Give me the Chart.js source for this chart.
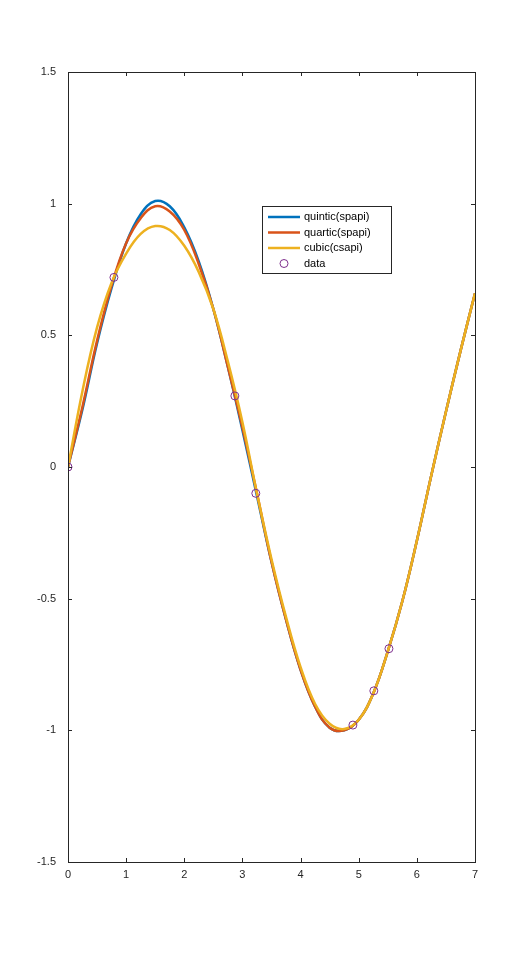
<!DOCTYPE html>
<html>
<head>
<meta charset="utf-8">
<script src="https://cdn.jsdelivr.net/npm/chart.js@4"></script>
<style>
  html, body { margin: 0; padding: 0; background: #fff; }
  #wrap { width: 525px; height: 970px; }
</style>
</head>
<body>
<div id="wrap"><canvas id="c" width="525" height="970"></canvas></div>
<script>
const xs = [0, 0.25, 0.5, 0.75, 1, 1.25, 1.5, 1.75, 2, 2.25, 2.5, 2.75, 3, 3.25, 3.5, 3.75, 4, 4.25, 4.5, 4.75, 5, 5.25, 5.5, 5.75, 6, 6.25, 6.5, 6.75, 7]
const quintic = [0, 0.22, 0.47, 0.68, 0.85, 0.96, 1.01, 0.99, 0.91, 0.78, 0.6, 0.38, 0.14, -0.11, -0.36, -0.58, -0.77, -0.91, -0.99, -1.0, -0.96, -0.86, -0.7, -0.51, -0.28, -0.03, 0.21, 0.44, 0.66]
const quartic = [0, 0.23, 0.48, 0.69, 0.85, 0.945, 0.99, 0.97, 0.9, 0.77, 0.6, 0.38, 0.15, -0.1, -0.36, -0.58, -0.77, -0.91, -0.99, -1.0, -0.96, -0.86, -0.7, -0.51, -0.28, -0.03, 0.21, 0.44, 0.66]
const cubic = [0, 0.29, 0.53, 0.7, 0.81, 0.885, 0.915, 0.9, 0.84, 0.74, 0.6, 0.4, 0.17, -0.1, -0.35, -0.57, -0.76, -0.9, -0.975, -0.995, -0.96, -0.86, -0.7, -0.51, -0.28, -0.03, 0.21, 0.44, 0.66]
const data_x = [0, 0.79, 2.87, 3.23, 4.9, 5.26, 5.52]
const data_y = [0, 0.72, 0.27, -0.1, -0.98, -0.85, -0.69]

const pts = (ys) => xs.map((x, i) => ({ x, y: ys[i] }))

const frame = {
  id: 'frame',
  afterDraw (chart) {
    const { ctx, chartArea: a, scales } = chart
    ctx.save()
    ctx.strokeStyle = '#262626'
    ctx.lineWidth = 1
    ctx.strokeRect(a.left + 0.5, a.top + 0.5, a.right - a.left, a.bottom - a.top)
    ctx.beginPath()
    for (const t of scales.y.ticks) {
      const y = Math.round(scales.y.getPixelForValue(t.value)) + 0.5
      ctx.moveTo(a.left, y); ctx.lineTo(a.left + 4, y)
      ctx.moveTo(a.right, y); ctx.lineTo(a.right - 4, y)
    }
    for (const t of scales.x.ticks) {
      const x = Math.round(scales.x.getPixelForValue(t.value)) + 0.5
      ctx.moveTo(x, a.bottom); ctx.lineTo(x, a.bottom - 4)
      ctx.moveTo(x, a.top); ctx.lineTo(x, a.top + 4)
    }
    ctx.stroke()
    // legend, in legend order
    const lx = 262, ly = 206, lw = 129, lh = 67
    ctx.fillStyle = '#fff'
    ctx.fillRect(lx, ly, lw, lh)
    ctx.strokeStyle = '#262626'
    ctx.strokeRect(lx + 0.5, ly + 0.5, lw, lh)
    ctx.font = '11px "Liberation Sans", Arial, sans-serif'
    ctx.textBaseline = 'middle'
    chart.data.datasets.forEach((ds, i) => {
      const y = ly + 11 + i * 15.5
      if (ds.showLine === false) {
        ctx.beginPath()
        ctx.arc(lx + 22, y, 4, 0, Math.PI * 2)
        ctx.strokeStyle = ds.borderColor
        ctx.lineWidth = 1
        ctx.stroke()
      } else {
        ctx.beginPath()
        ctx.moveTo(lx + 6, y); ctx.lineTo(lx + 38, y)
        ctx.strokeStyle = ds.borderColor
        ctx.lineWidth = 2.5
        ctx.stroke()
      }
      ctx.fillStyle = '#000'
      ctx.fillText(ds.label, lx + 42, y)
    })
    ctx.restore()
  }
}

new Chart(document.getElementById('c'), {
  type: 'scatter',
  data: {
    datasets: [
      { label: 'quintic(spapi)', order: 4, data: pts(quintic), showLine: true, borderColor: '#0072BD', borderWidth: 2.5, pointRadius: 0, tension: 0.4 },
      { label: 'quartic(spapi)', order: 3, data: pts(quartic), showLine: true, borderColor: '#D95319', borderWidth: 2.5, pointRadius: 0, tension: 0.4 },
      { label: 'cubic(csapi)', order: 2, data: pts(cubic), showLine: true, borderColor: '#EDB120', borderWidth: 2.5, pointRadius: 0, tension: 0.4 },
      { label: 'data', order: 1, data: data_x.map((x, i) => ({ x, y: data_y[i] })), showLine: false, borderColor: '#7E2F8E', backgroundColor: 'rgba(0,0,0,0)', borderWidth: 1, pointRadius: 4 }
    ]
  },
  options: {
    responsive: false,
    animation: false,
    layout: { padding: { top: 72, right: 50, bottom: 78, left: 0 } },
    plugins: { legend: { display: false }, tooltip: { enabled: false } },
    scales: {
      x: {
        min: 0, max: 7,
        ticks: { stepSize: 1, color: '#262626', font: { size: 11, family: 'Liberation Sans' }, maxRotation: 0, padding: -2 },
        grid: { display: false },
        border: { display: false },
        afterFit: (s) => { s.height = 30 }
      },
      y: {
        min: -1.5, max: 1.5,
        ticks: { stepSize: 0.5, color: '#262626', font: { size: 11, family: 'Liberation Sans' }, padding: 4, callback: (v) => String(v) },
        grid: { display: false },
        border: { display: false },
        afterFit: (s) => { s.width = 68 }
      }
    }
  },
  plugins: [frame]
})
</script>
</body>
</html>
